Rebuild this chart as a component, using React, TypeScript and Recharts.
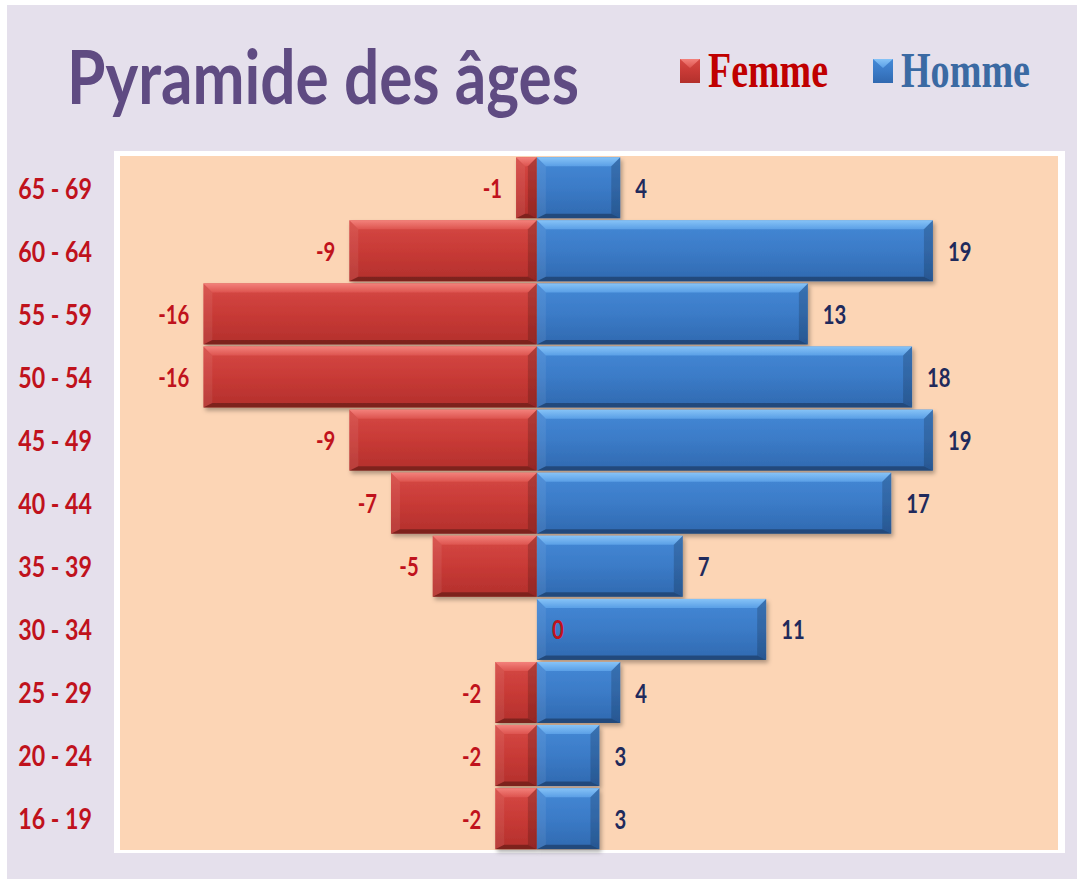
import { BarChart, Bar, XAxis, YAxis, CartesianGrid, Legend, LabelList } from 'recharts';

// Age groups, top row first
const AGE_GROUPS = ['65 - 69', '60 - 64', '55 - 59', '50 - 54', '45 - 49', '40 - 44', '35 - 39', '30 - 34', '25 - 29', '20 - 24', '16 - 19'];
const FEMME = [-1, -9, -16, -16, -9, -7, -5, 0, -2, -2, -2];
const HOMME = [4, 19, 13, 18, 19, 17, 7, 11, 4, 3, 3];
const SERIES = ['Femme', 'Homme'];
const X_DOMAIN = [-20, 25];

const data = AGE_GROUPS.map((age, i) => ({ age, Femme: FEMME[i], Homme: HOMME[i] }));

const RED = '#c0121c';
const NAVY = '#1f2a5c';
const LEGEND_COLORS: Record<string, string> = { Femme: '#c00000', Homme: '#3b6aa3' };
const TONE: Record<string, string> = { Femme: 'red', Homme: 'blue' };
const LABEL_FONT = 'Lato, "Open Sans", sans-serif';

function BevelBar(props: any) {
  const { x, y, width, height, tone } = props;
  const w = Math.abs(width || 0);
  if (w < 0.5 || !height) return <g />;
  const x0 = width < 0 ? x + width : x;
  const h = height;
  const x1 = x0 + w;
  const y1 = y + h;
  const b = Math.min(9, w / 2, h / 2);
  const bb = b * 0.5;
  return (
    <g filter="url(#bar-shadow)">
      <rect x={x0} y={y} width={w} height={h} fill={`url(#body-${tone})`} />
      <polygon points={`${x0},${y} ${x1},${y} ${x1 - b},${y + b} ${x0 + b},${y + b}`} fill={`url(#top-${tone})`} />
      <polygon points={`${x0},${y} ${x0 + b},${y + b} ${x0 + b},${y1 - bb} ${x0},${y1}`} fill="#fff" fillOpacity={0.07} />
      <polygon points={`${x1},${y} ${x1},${y1} ${x1 - b},${y1 - bb} ${x1 - b},${y + b}`} fill="#000" fillOpacity={0.17} />
      <polygon points={`${x0},${y1} ${x1},${y1} ${x1 - b},${y1 - bb} ${x0 + b},${y1 - bb}`} fill="#000" fillOpacity={0.3} />
    </g>
  );
}

function makeLabel(color: string) {
  return (props: any) => {
    const vb = props.viewBox && props.viewBox.width !== undefined ? props.viewBox : props;
    const { x, y, width, height } = vb;
    const v = Number(props.value);
    const left = Math.min(x, x + width);
    const right = Math.max(x, x + width);
    const tx = v < 0 ? left - 14 : right + 15;
    const ty = y + height / 2;
    return (
      <text
        transform={`translate(${tx},${ty}) scale(0.78,1)`}
        textAnchor={v < 0 ? 'end' : 'start'}
        dominantBaseline="central"
        fontFamily={LABEL_FONT}
        fontWeight={700}
        fontSize={26}
        fill={color}
      >
        {v}
      </text>
    );
  };
}

function AgeTick(props: any) {
  const { x, y, payload } = props;
  return (
    <text
      transform={`translate(${x},${y}) scale(0.8,1)`}
      textAnchor="end"
      dominantBaseline="central"
      fontFamily={LABEL_FONT}
      fontWeight={700}
      fontSize={29}
      fill={RED}
    >
      {payload.value}
    </text>
  );
}

function LegendBox(props: any) {
  const payload = props.payload || [];
  // one entry per series, in SERIES order (the hidden label bar repeats Femme)
  const items = SERIES.filter((name) => payload.some((it: any) => it.value === name));
  const xs = [10, 203];
  const widths = [120, 129];
  return (
    <svg width={400} height={70}>
      {items.map((name, i) => (
        <g key={name}>
          <rect x={xs[i]} y={19} width={20} height={24} fill={`url(#body-${TONE[name]})`} />
          <polygon
            points={`${xs[i]},19 ${xs[i] + 20},19 ${xs[i] + 10},28`}
            fill={`url(#top-${TONE[name]})`}
          />
          <text
            x={xs[i] + 28}
            y={47}
            textLength={widths[i]}
            lengthAdjust="spacingAndGlyphs"
            fontFamily='"Liberation Serif", "Times New Roman", serif'
            fontWeight={700}
            fontSize={50}
            fill={LEGEND_COLORS[name]}
          >
            {name}
          </text>
        </g>
      ))}
    </svg>
  );
}

export default function App() {
  return (
    <div style={{ position: 'absolute', left: 0, top: 0, width: 1077, height: 879, background: '#fff', overflow: 'hidden' }}>
      <svg width={0} height={0} style={{ position: 'absolute' }}>
        <defs>
          <linearGradient id="body-red" x1="0" y1="0" x2="0" y2="1">
            <stop offset="0%" stopColor="#d64a45" />
            <stop offset="50%" stopColor="#c83a36" />
            <stop offset="100%" stopColor="#b3302c" />
          </linearGradient>
          <linearGradient id="body-blue" x1="0" y1="0" x2="0" y2="1">
            <stop offset="0%" stopColor="#4589d6" />
            <stop offset="50%" stopColor="#3b7bc7" />
            <stop offset="100%" stopColor="#3069b0" />
          </linearGradient>
          <linearGradient id="top-red" x1="0" y1="0" x2="0" y2="1">
            <stop offset="0%" stopColor="#f3817b" />
            <stop offset="100%" stopColor="#dd544f" />
          </linearGradient>
          <linearGradient id="top-blue" x1="0" y1="0" x2="0" y2="1">
            <stop offset="0%" stopColor="#86c3f7" />
            <stop offset="100%" stopColor="#5a9fe6" />
          </linearGradient>
          <filter id="bar-shadow" x="-10%" y="-20%" width="130%" height="160%">
            <feDropShadow dx="2" dy="3" stdDeviation="2" floodColor="#000" floodOpacity="0.3" />
          </filter>
        </defs>
      </svg>
      <div style={{ position: 'absolute', left: 7, top: 5, right: 0, bottom: 0, background: '#e5e0ec' }} />
      <div style={{ position: 'absolute', left: 114, top: 151, width: 951, height: 702, background: '#fff' }} />
      <svg width={1077} height={150} style={{ position: 'absolute', left: 0, top: 0 }}>
        <text
          x={67}
          y={104}
          textLength={512}
          lengthAdjust="spacingAndGlyphs"
          fontFamily='Lato, "Open Sans", sans-serif'
          fontWeight={700}
          fontSize={74}
          fill="#5f4b82"
        >
          Pyramide des âges
        </text>
      </svg>
      <div style={{ position: 'absolute', left: 0, top: 0 }}>
        <BarChart
          width={1077}
          height={879}
          data={data}
          layout="vertical"
          stackOffset="sign"
          barCategoryGap="2%"
          margin={{ top: 156, right: 19, bottom: 29, left: 0 }}
        >
          <CartesianGrid horizontal={false} vertical={false} fill="#fcd5b5" fillOpacity={1} />
          <XAxis type="number" domain={X_DOMAIN} hide allowDataOverflow />
          <YAxis
            type="category"
            dataKey="age"
            width={120}
            axisLine={false}
            tickLine={false}
            tickSize={0}
            tickMargin={28}
            interval={0}
            tick={<AgeTick />}
          />
          {/* hidden twin axis so the Femme labels sit on top of every bar */}
          <YAxis yAxisId="labels" type="category" dataKey="age" hide />
          <Legend
            layout="horizontal"
            verticalAlign="middle"
            align="center"
            wrapperStyle={{ left: 670, top: 40, width: 400, height: 70 }}
            content={<LegendBox />}
          />
          <Bar dataKey="Femme" stackId="age" isAnimationActive={false} shape={(p: any) => <BevelBar {...p} tone="red" />} />
          <Bar dataKey="Homme" stackId="age" isAnimationActive={false} shape={(p: any) => <BevelBar {...p} tone="blue" />}>
            <LabelList dataKey="Homme" content={makeLabel(NAVY)} />
          </Bar>
          <Bar
            yAxisId="labels"
            dataKey="Femme"
            legendType="none"
            fill="none"
            isAnimationActive={false}
            shape={() => <g />}
          >
            <LabelList dataKey="Femme" content={makeLabel(RED)} />
          </Bar>
        </BarChart>
      </div>
    </div>
  );
}
